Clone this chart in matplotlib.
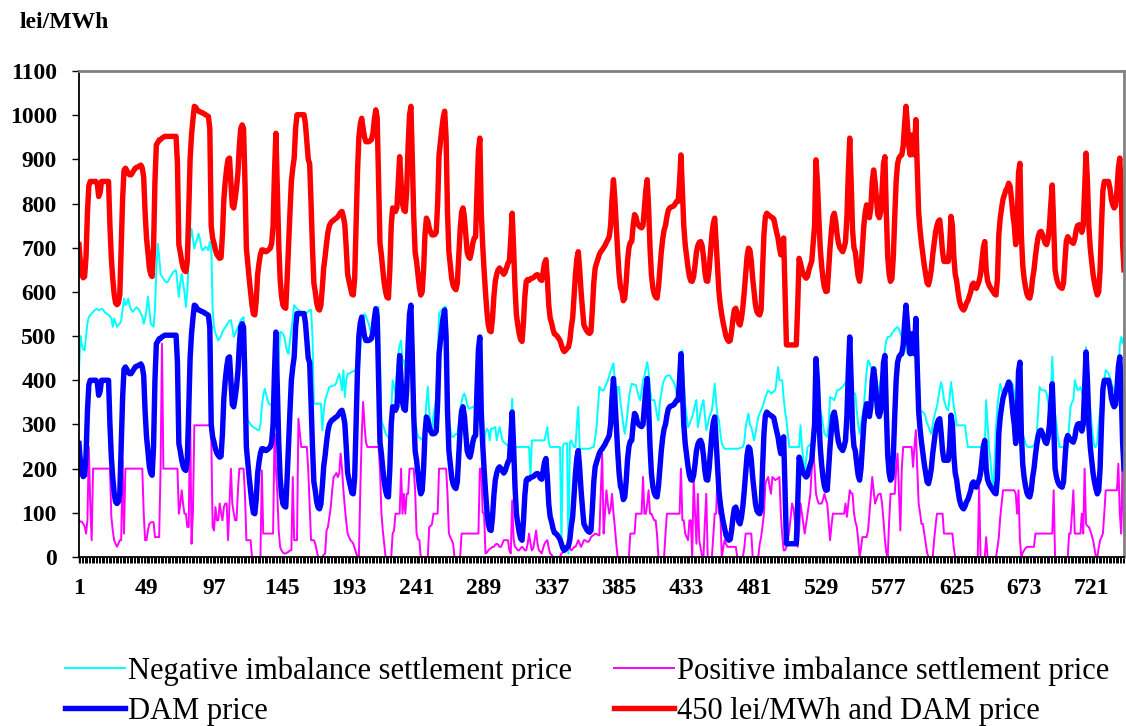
import numpy as np
import matplotlib
matplotlib.use("Agg")
import matplotlib.pyplot as plt

plt.rcParams['font.family'] = ['Liberation Serif', 'DejaVu Serif']

# hourly prices, one row per day of the month (lei/MWh)
dam_by_day = [
    [257, 215, 190, 182, 185, 230, 330, 390, 400, 400, 400, 400, 400, 395, 366, 375, 400, 400, 400, 400, 400, 400, 300, 226],
    [180, 145, 125, 121, 125, 143, 250, 360, 425, 430, 425, 418, 415, 415, 420, 425, 430, 432, 433, 435, 437, 430, 410, 330],
    [272, 240, 205, 190, 185, 250, 400, 483, 488, 494, 495, 498, 500, 502, 502, 502, 502, 502, 502, 502, 502, 502, 440, 257],
    [240, 220, 205, 198, 196, 220, 330, 450, 505, 540, 570, 568, 562, 559, 558, 556, 555, 553, 551, 549, 547, 520, 300, 272],
    [260, 245, 235, 230, 226, 228, 280, 360, 400, 430, 450, 453, 400, 345, 340, 360, 385, 420, 480, 520, 528, 520, 400, 249],
    [215, 180, 150, 120, 100, 98, 130, 189, 215, 235, 245, 245, 242, 241, 243, 246, 249, 260, 300, 420, 509, 380, 260, 180],
    [140, 120, 115, 113, 180, 257, 330, 400, 430, 453, 520, 551, 551, 551, 551, 551, 551, 530, 490, 450, 440, 350, 250, 170],
    [150, 125, 112, 109, 120, 160, 205, 230, 260, 285, 300, 306, 310, 312, 315, 317, 320, 325, 330, 332, 320, 302, 250, 190],
    [174, 160, 145, 143, 180, 300, 420, 500, 530, 543, 520, 500, 490, 490, 490, 492, 495, 510, 540, 562, 545, 400, 260, 234],
    [200, 170, 150, 138, 136, 200, 300, 340, 335, 332, 340, 400, 456, 400, 350, 335, 332, 380, 480, 550, 570, 450, 320, 240],
    [219, 190, 160, 143, 150, 200, 280, 317, 310, 295, 285, 279, 279, 280, 285, 350, 460, 490, 520, 545, 559, 500, 330, 241],
    [210, 180, 165, 158, 155, 170, 230, 290, 330, 340, 320, 280, 240, 230, 226, 240, 260, 272, 275, 380, 470, 498, 330, 257],
    [200, 150, 106, 75, 62, 60, 90, 140, 174, 190, 200, 204, 200, 195, 190, 195, 205, 215, 220, 270, 328, 250, 160, 98],
    [75, 55, 42, 38, 80, 140, 174, 178, 176, 180, 181, 182, 185, 188, 189, 185, 178, 176, 195, 215, 223, 180, 120, 91],
    [80, 65, 55, 53, 50, 45, 40, 30, 20, 15, 18, 22, 25, 40, 70, 91, 140, 190, 225, 241, 200, 150, 110, 75],
    [68, 62, 58, 56, 60, 110, 170, 204, 215, 225, 235, 241, 245, 250, 255, 262, 268, 275, 300, 360, 404, 360, 300, 240],
    [190, 160, 151, 130, 135, 170, 220, 250, 262, 264, 300, 325, 320, 305, 300, 297, 295, 300, 340, 380, 404, 340, 250, 189],
    [160, 145, 138, 136, 160, 200, 240, 270, 290, 300, 320, 335, 340, 342, 343, 345, 350, 355, 355, 400, 460, 380, 300, 257],
    [230, 205, 185, 175, 174, 185, 210, 240, 255, 262, 264, 255, 230, 195, 175, 174, 200, 240, 280, 305, 317, 260, 200, 150],
    [120, 98, 80, 65, 50, 42, 38, 40, 60, 90, 110, 113, 100, 80, 75, 90, 115, 150, 190, 230, 249, 245, 220, 180],
    [150, 120, 105, 100, 98, 110, 200, 280, 320, 328, 325, 322, 320, 318, 315, 300, 285, 272, 250, 234, 255, 272, 150, 30],
    [30, 30, 30, 30, 30, 30, 30, 120, 226, 215, 200, 190, 185, 181, 185, 200, 210, 220, 260, 300, 449, 400, 320, 250],
    [210, 180, 160, 151, 152, 200, 250, 290, 320, 328, 310, 280, 260, 250, 245, 241, 250, 264, 320, 420, 498, 400, 290, 250],
    [240, 210, 185, 174, 200, 250, 300, 330, 347, 330, 318, 340, 400, 426, 400, 360, 325, 318, 330, 380, 440, 456, 330, 230],
    [190, 174, 180, 230, 320, 400, 440, 453, 458, 460, 480, 530, 570, 530, 480, 460, 505, 470, 460, 540, 430, 330, 290, 260],
    [234, 210, 190, 170, 166, 180, 200, 234, 260, 285, 300, 310, 313, 280, 240, 219, 219, 219, 219, 250, 321, 300, 230, 190],
    [175, 150, 130, 118, 112, 109, 115, 125, 130, 140, 150, 166, 170, 160, 158, 166, 175, 190, 220, 250, 264, 200, 175, 166],
    [160, 155, 150, 145, 143, 180, 280, 317, 340, 360, 370, 380, 385, 396, 389, 360, 325, 300, 257, 300, 420, 441, 280, 210],
    [180, 160, 145, 138, 136, 150, 180, 200, 230, 255, 275, 285, 287, 280, 270, 260, 257, 270, 300, 350, 392, 300, 200, 181],
    [170, 163, 160, 158, 170, 220, 265, 275, 270, 265, 262, 260, 270, 290, 300, 302, 300, 285, 300, 380, 464, 400, 300, 249],
    [220, 190, 170, 155, 143, 150, 200, 300, 380, 400, 400, 400, 400, 385, 360, 347, 340, 345, 380, 430, 453, 380, 260, 200],
]

neg_by_day = [
    [420, 500, 480, 470, 468, 500, 530, 543, 548, 551, 555, 558, 560, 562, 558, 560, 562, 560, 555, 552, 550, 548, 545, 540],
    [521, 540, 530, 521, 525, 528, 535, 560, 585, 570, 575, 585, 570, 560, 555, 558, 562, 565, 562, 558, 550, 545, 528, 540],
    [560, 589, 560, 528, 525, 521, 560, 650, 709, 680, 641, 635, 630, 625, 622, 622, 628, 635, 640, 645, 648, 649, 620, 589],
    [620, 641, 620, 600, 566, 600, 672, 720, 743, 720, 698, 710, 720, 732, 720, 700, 694, 698, 702, 700, 694, 713, 713, 560],
    [520, 506, 498, 490, 495, 500, 510, 515, 520, 525, 530, 535, 536, 520, 498, 505, 513, 520, 528, 536, 540, 543, 450, 330],
    [309, 305, 300, 296, 294, 292, 290, 288, 287, 300, 340, 365, 381, 370, 355, 347, 345, 342, 340, 340, 345, 380, 450, 509],
    [509, 505, 498, 480, 465, 460, 490, 513, 540, 570, 565, 562, 559, 557, 555, 553, 551, 551, 553, 556, 559, 559, 500, 347],
    [347, 347, 347, 347, 347, 287, 330, 355, 365, 375, 385, 386, 387, 388, 389, 395, 405, 415, 400, 377, 423, 362, 400, 415],
    [415, 417, 419, 420, 422, 425, 428, 430, 470, 521, 540, 551, 545, 535, 528, 515, 498, 520, 545, 551, 560, 566, 450, 309],
    [300, 290, 279, 275, 270, 268, 330, 400, 385, 370, 420, 460, 480, 490, 445, 445, 425, 407, 430, 500, 555, 420, 332, 300],
    [290, 272, 270, 268, 266, 264, 300, 350, 385, 330, 300, 287, 320, 340, 362, 450, 551, 555, 560, 563, 566, 566, 420, 309],
    [290, 272, 272, 275, 278, 279, 300, 332, 350, 365, 370, 360, 345, 336, 336, 338, 340, 340, 330, 320, 310, 302, 290, 257],
    [257, 280, 290, 287, 264, 291, 290, 292, 294, 264, 280, 294, 280, 264, 260, 257, 255, 252, 249, 300, 358, 260, 249, 249],
    [249, 249, 249, 249, 249, 249, 249, 249, 249, 181, 264, 264, 264, 264, 264, 264, 264, 264, 264, 264, 280, 294, 260, 249],
    [249, 249, 249, 249, 249, 249, 249, 23, 250, 257, 257, 257, 8, 260, 264, 255, 249, 249, 300, 340, 245, 245, 245, 245],
    [245, 245, 245, 245, 247, 249, 249, 270, 294, 340, 385, 380, 377, 377, 385, 392, 400, 410, 420, 430, 438, 400, 360, 385],
    [385, 350, 325, 300, 279, 300, 325, 360, 380, 392, 391, 390, 389, 375, 362, 355, 375, 400, 410, 425, 441, 420, 380, 355],
    [355, 355, 340, 320, 309, 350, 370, 390, 400, 407, 410, 411, 411, 405, 400, 395, 385, 370, 365, 362, 430, 468, 400, 347],
    [320, 294, 300, 310, 317, 330, 345, 355, 294, 310, 330, 345, 355, 320, 287, 300, 315, 325, 332, 360, 392, 350, 320, 309],
    [280, 257, 250, 245, 245, 245, 245, 245, 245, 245, 245, 245, 245, 245, 247, 248, 249, 260, 294, 310, 325, 300, 294, 280],
    [264, 280, 300, 317, 325, 332, 340, 350, 362, 370, 377, 374, 370, 372, 375, 377, 400, 430, 400, 400, 400, 360, 330, 309],
    [280, 249, 249, 249, 249, 249, 249, 249, 249, 298, 249, 220, 189, 220, 249, 252, 255, 257, 300, 377, 360, 340, 336, 332],
    [320, 300, 279, 275, 272, 300, 362, 360, 358, 355, 365, 377, 378, 380, 383, 385, 390, 395, 398, 400, 400, 390, 380, 370],
    [370, 330, 300, 279, 300, 320, 340, 380, 420, 445, 440, 430, 415, 400, 390, 380, 370, 385, 400, 415, 440, 470, 490, 498],
    [498, 500, 506, 510, 515, 518, 521, 515, 506, 498, 490, 480, 470, 460, 470, 480, 490, 500, 510, 521, 521, 420, 332, 330],
    [328, 325, 315, 302, 295, 285, 279, 300, 317, 330, 340, 360, 380, 396, 380, 355, 345, 335, 332, 360, 396, 370, 340, 325],
    [298, 298, 298, 298, 298, 298, 298, 270, 249, 249, 249, 249, 249, 249, 249, 249, 249, 249, 249, 249, 249, 355, 300, 249],
    [220, 180, 158, 220, 294, 340, 370, 392, 380, 355, 370, 392, 395, 398, 400, 395, 390, 370, 330, 290, 300, 320, 300, 279],
    [268, 257, 250, 249, 249, 249, 250, 253, 265, 279, 330, 385, 380, 377, 377, 377, 370, 350, 325, 360, 453, 380, 325, 300],
    [270, 249, 249, 249, 249, 249, 249, 249, 300, 340, 350, 355, 400, 390, 377, 380, 385, 375, 362, 400, 475, 420, 380, 340],
    [300, 270, 249, 249, 260, 300, 330, 347, 370, 400, 423, 420, 415, 407, 395, 385, 377, 372, 370, 400, 480, 498, 483, 500],
]

pos_by_day = [
    [83, 80, 80, 75, 70, 53, 83, 249, 120, 38, 200, 200, 200, 200, 200, 200, 200, 200, 200, 200, 200, 200, 200, 91],
    [60, 38, 30, 23, 30, 38, 38, 219, 53, 200, 200, 200, 200, 200, 200, 200, 200, 200, 200, 200, 200, 200, 100, 38],
    [38, 60, 75, 78, 79, 79, 45, 45, 45, 45, 200, 483, 200, 200, 200, 200, 200, 200, 200, 200, 200, 200, 200, 98],
    [120, 151, 120, 98, 98, 68, 68, 340, 30, 100, 298, 298, 298, 298, 298, 298, 298, 298, 298, 298, 298, 298, 280, 68],
    [60, 113, 83, 83, 121, 100, 83, 113, 121, 121, 38, 120, 200, 121, 100, 83, 83, 150, 200, 200, 200, 200, 143, 38],
    [38, 38, 38, 0, 0, 0, 0, 0, 0, 0, 196, 53, 53, 53, 53, 53, 53, 53, 53, 279, 200, 143, 60, 23],
    [15, 10, 8, 8, 10, 12, 15, 15, 181, 38, 38, 38, 313, 280, 249, 249, 249, 249, 249, 196, 120, 38, 38, 38],
    [30, 15, 0, 0, 0, 0, 5, 8, 60, 68, 90, 113, 150, 181, 185, 190, 181, 189, 234, 200, 151, 113, 80, 53],
    [45, 38, 35, 30, 20, 10, 0, 0, 150, 272, 351, 300, 260, 249, 249, 249, 249, 249, 249, 249, 249, 249, 200, 100],
    [60, 30, 0, 0, 0, 0, 0, 53, 60, 98, 98, 98, 98, 200, 98, 143, 98, 143, 143, 200, 200, 200, 200, 150],
    [53, 40, 38, 0, 0, 0, 0, 0, 0, 68, 70, 75, 98, 98, 98, 98, 200, 200, 200, 200, 200, 200, 143, 53],
    [45, 38, 30, 0, 0, 0, 0, 0, 53, 53, 53, 53, 53, 53, 53, 53, 53, 53, 53, 53, 53, 200, 200, 100],
    [100, 8, 10, 15, 18, 20, 23, 23, 28, 30, 28, 23, 23, 30, 38, 38, 38, 38, 15, 8, 128, 40, 23, 20],
    [15, 15, 20, 23, 20, 15, 15, 30, 53, 30, 15, 20, 40, 60, 30, 15, 12, 8, 20, 30, 35, 38, 20, 8],
    [5, 0, 0, 0, 0, 0, 0, 8, 10, 12, 15, 18, 23, 20, 15, 18, 23, 23, 30, 38, 30, 23, 30, 38],
    [38, 35, 34, 38, 45, 48, 50, 53, 52, 50, 49, 150, 234, 53, 100, 151, 120, 98, 110, 143, 100, 68, 30, 0],
    [0, 0, 0, 0, 0, 0, 0, 0, 53, 53, 53, 53, 98, 98, 98, 98, 98, 181, 98, 98, 120, 151, 98, 98],
    [90, 83, 83, 50, 0, 0, 0, 0, 0, 53, 98, 98, 98, 98, 98, 98, 98, 98, 98, 98, 200, 83, 83, 53],
    [45, 38, 83, 83, 0, 177, 100, 30, 143, 38, 20, 0, 0, 80, 143, 0, 0, 0, 0, 50, 98, 98, 189, 98],
    [98, 0, 20, 38, 30, 23, 23, 23, 23, 23, 23, 23, 0, 0, 0, 0, 0, 20, 53, 53, 53, 53, 53, 0],
    [0, 0, 0, 0, 30, 45, 70, 98, 166, 175, 181, 160, 143, 181, 178, 174, 176, 178, 181, 98, 50, 15, 15, 23],
    [38, 60, 90, 121, 110, 83, 60, 23, 60, 121, 98, 75, 53, 75, 98, 120, 143, 200, 241, 200, 143, 130, 121, 121],
    [121, 130, 143, 130, 121, 80, 38, 70, 98, 98, 98, 98, 98, 98, 98, 98, 98, 121, 91, 120, 151, 145, 143, 100],
    [80, 68, 40, 0, 20, 45, 45, 45, 45, 60, 98, 140, 181, 150, 121, 130, 140, 143, 143, 120, 83, 40, 10, 0],
    [80, 143, 143, 143, 143, 200, 234, 150, 60, 200, 249, 249, 249, 249, 249, 249, 249, 204, 249, 287, 200, 121, 100, 75],
    [75, 53, 30, 10, 0, 0, 0, 0, 38, 70, 98, 98, 98, 98, 98, 53, 53, 53, 53, 53, 53, 53, 20, 0],
    [0, 0, 0, 0, 0, 0, 0, 0, 0, 0, 0, 0, 0, 0, 0, 0, 158, 0, 0, 0, 0, 45, 0, 0],
    [0, 0, 0, 0, 0, 20, 45, 90, 120, 151, 151, 151, 151, 151, 151, 151, 151, 151, 143, 98, 151, 38, 0, 10],
    [15, 20, 23, 23, 23, 23, 23, 23, 53, 53, 53, 53, 53, 53, 53, 53, 53, 53, 53, 53, 53, 151, 0, 0],
    [0, 0, 0, 0, 0, 0, 0, 0, 53, 53, 98, 151, 53, 53, 53, 53, 53, 98, 53, 200, 75, 70, 68, 60],
    [50, 38, 20, 0, 0, 20, 38, 45, 53, 100, 151, 151, 151, 151, 151, 151, 151, 151, 151, 211, 100, 53, 230, 60],
]

markup = 450  # lei/MWh added on top of the DAM price
xtick_hours = [1, 49, 97, 145, 193, 241, 289, 337, 385, 433, 481, 529, 577, 625, 673, 721]
yticks = list(range(0, 1101, 100))

labels = ['Negative imbalance settlement price',
          'Positive imbalance settlement price',
          'DAM price',
          '450 lei/MWh and DAM price']

dam = np.concatenate(dam_by_day)
neg = np.concatenate(neg_by_day)
pos = np.concatenate(pos_by_day)
hours = np.arange(1, len(dam) + 1)

W, H = 1126, 726
fig = plt.figure(figsize=(W / 100, H / 100), dpi=100)
ax = fig.add_axes([79 / W, 1 - 557 / H, 1045 / W, 486 / H])

l_neg, = ax.plot(hours, neg, color='#00FFFF', lw=1.4, label=labels[0])
l_pos, = ax.plot(hours, pos, color='#FF00FF', lw=1.4, label=labels[1])
l_dam, = ax.plot(hours, dam, color='#0000FF', lw=3.9, label=labels[2])
l_sum, = ax.plot(hours, dam + markup, color='#FF0000', lw=3.9, label=labels[3])

ax.set_xlim(1, len(dam))
ax.set_ylim(0, 1100)
ax.set_yticks(yticks)
ax.set_xticks(xtick_hours)
# one tick mark per hour along the time axis
ax.set_xticks(hours, minor=True)

ax.tick_params(axis='y', direction='out', length=5, width=1.0, pad=11, labelsize=17)
ax.tick_params(axis='x', which='major', direction='out', length=4.5, width=1.0,
               color='black', pad=10.5, labelsize=17)
ax.tick_params(axis='x', which='minor', bottom=True, direction='out', length=4.5, width=0.7,
               color='black')
for lab in ax.get_xticklabels() + ax.get_yticklabels():
    lab.set_fontweight('bold')

for side in ('top', 'right'):
    ax.spines[side].set_color('#808080')
    ax.spines[side].set_linewidth(2)
for side in ('left', 'bottom'):
    ax.spines[side].set_color('black')
    ax.spines[side].set_linewidth(1.3)

fig.text(20 / W, 1 - 22 / H, 'lei/MWh', fontsize=17, fontweight='bold', va='center', ha='left')

# two rows: negative / positive, then DAM / DAM + markup
fig.legend([l_neg, l_dam, l_pos, l_sum],
           [labels[0], labels[2], labels[1], labels[3]],
           ncol=2, loc='upper left', bbox_to_anchor=(65 / W, 1 - 656 / H),
           frameon=False, fontsize=22, handlelength=1.95, handletextpad=0.1,
           columnspacing=1.4, labelspacing=0.36, borderpad=0, borderaxespad=0)

fig.savefig('out.png', dpi=100)
